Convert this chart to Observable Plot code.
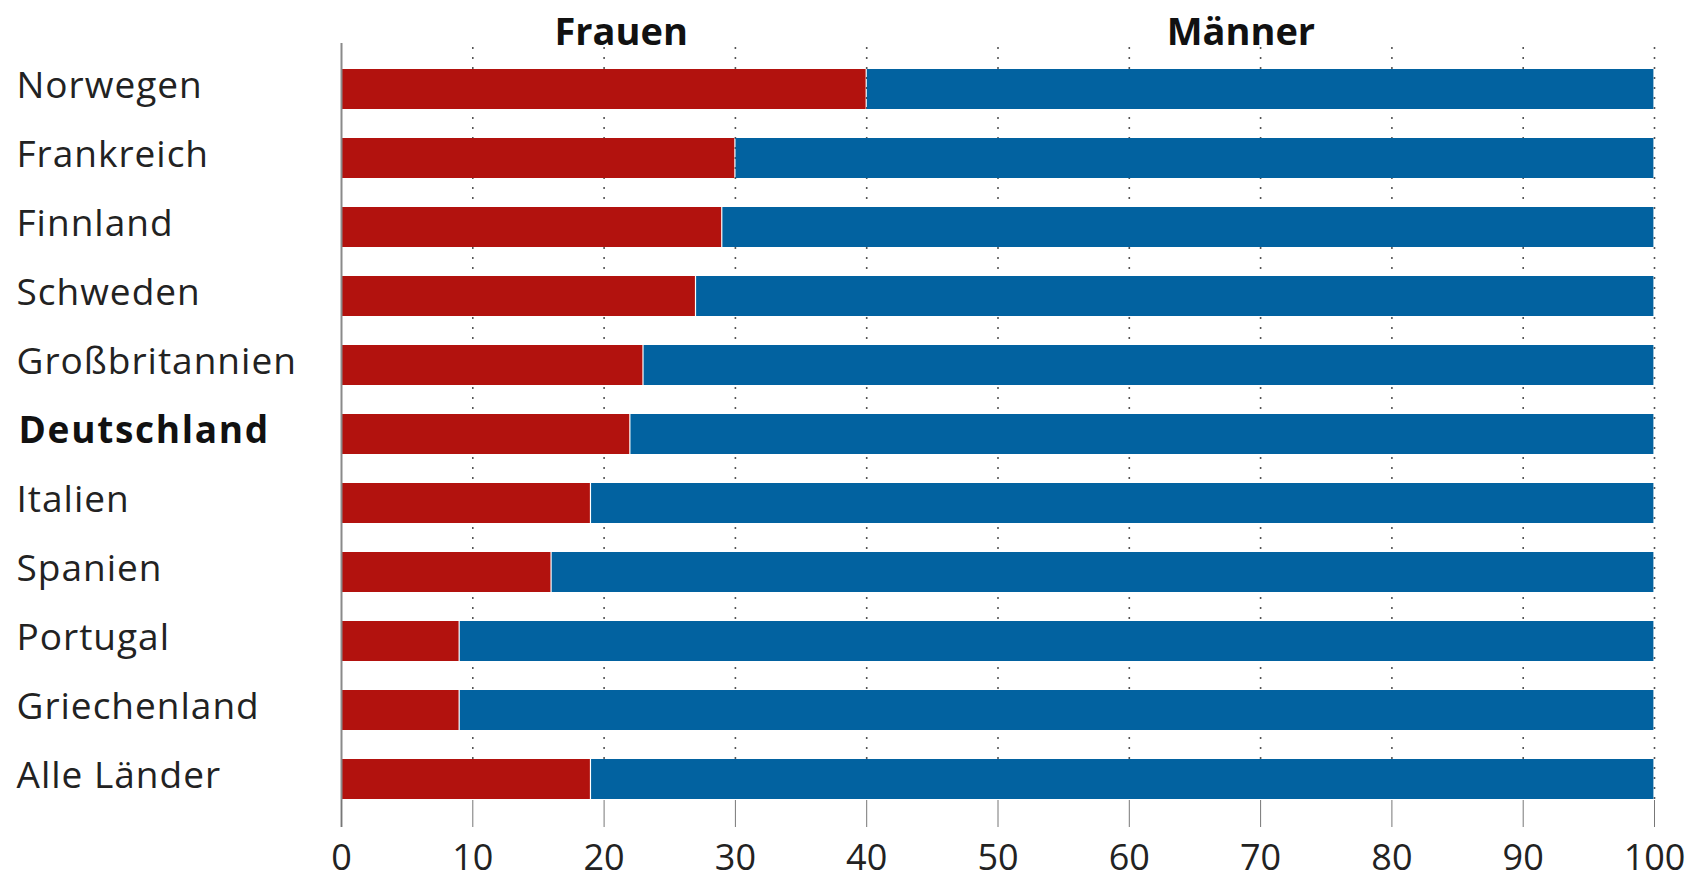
<!DOCTYPE html>
<html>
<head>
<meta charset="utf-8">
<script src="https://cdn.jsdelivr.net/npm/d3@7"></script>
<script src="https://cdn.jsdelivr.net/npm/@observablehq/plot@0.6"></script>
<style>
  html, body { margin: 0; padding: 0; background: #fff; }
  #chart svg { display: block; }
  .lbl-normal text { letter-spacing: 1px; }
  .lbl-bold text { letter-spacing: 1.7px; }
</style>
</head>
<body>
<div id="chart"></div>
<script>
const countries = ["Norwegen", "Frankreich", "Finnland", "Schweden", "Großbritannien", "Deutschland", "Italien", "Spanien", "Portugal", "Griechenland", "Alle Länder"];
const frauen = [40, 30, 29, 27, 23, 22, 19, 16, 9, 9, 19];
const maenner = frauen.map(v => 100 - v);
const groups = ["Frauen", "Männer"];
const xTicks = [0, 10, 20, 30, 40, 50, 60, 70, 80, 90, 100];
const highlight = "Deutschland";

const rows = [];
countries.forEach((c, i) => {
  rows.push({country: c, group: "Frauen", value: frauen[i]});
  rows.push({country: c, group: "Männer", value: maenner[i]});
});
const headers = [
  {label: groups[0], x: 21.3},
  {label: groups[1], x: 68.5}
];

const font = "'Open Sans', 'Noto Sans', sans-serif";

const chart = Plot.plot({
  width: 1693,
  height: 883,
  marginLeft: 341,
  marginRight: 39,
  marginTop: 68,
  marginBottom: 83,
  style: {fontFamily: font, background: "#fff", color: "#222"},
  x: {domain: [0, 100], ticks: xTicks},
  y: {domain: countries, paddingInner: 0.42, paddingOuter: 0, axis: null},
  color: {domain: groups, range: ["#b2120e", "#0262a0"]},
  marks: [
    Plot.ruleX(xTicks.slice(1), {stroke: "#555", strokeWidth: 1.6, strokeDasharray: "2,8", insetTop: -21}),
    Plot.barX(rows, Plot.stackX({x: "value", y: "country", fill: "group", order: groups, insetLeft: 0.6, insetRight: 0.6})),
    Plot.ruleX([0], {stroke: "#8a8a8a", strokeWidth: 2, insetTop: -25, insetBottom: -27}),
    Plot.axisX({
      ticks: xTicks,
      tickSize: 27,
      tickPadding: 17,
      stroke: "#777",
      fontSize: 36,
      fill: "#222",
      tickFormat: d => d
    }),
    Plot.text(countries.filter(c => c !== highlight), {
      y: d => d, frameAnchor: "left", textAnchor: "start", dx: -325, dy: -3,
      fontSize: 37, fill: "#222", className: "lbl-normal"
    }),
    Plot.text([highlight], {
      y: d => d, frameAnchor: "left", textAnchor: "start", dx: -323, dy: -3,
      fontSize: 37, fontWeight: "bold", fill: "#111", className: "lbl-bold"
    }),
    Plot.text(headers, {
      x: "x", text: "label", frameAnchor: "top", dy: -50,
      fontSize: 38, fontWeight: "bold", fill: "#111"
    })
  ]
});
document.getElementById("chart").appendChild(chart);
</script>
</body>
</html>
